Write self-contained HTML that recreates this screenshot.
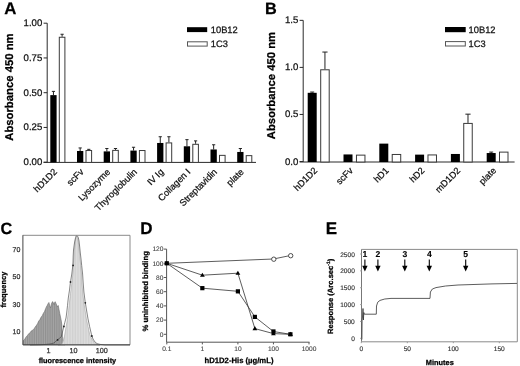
<!DOCTYPE html>
<html><head><meta charset="utf-8"><style>
html,body{margin:0;padding:0;background:#fff;}
body{width:520px;height:366px;overflow:hidden;}
svg{display:block;font-family:"Liberation Sans", sans-serif;-webkit-font-smoothing:antialiased;text-rendering:geometricPrecision;filter:grayscale(1);}
</style></head><body>
<svg width="520" height="366" viewBox="0 0 520 366">
<rect width="520" height="366" fill="#fff"/>
<text x="4.30" y="13.60" font-size="16.8" text-anchor="start" fill="#000" font-weight="bold" stroke="#000" stroke-width="0.25">A</text>
<line x1="47.20" y1="23.20" x2="47.20" y2="162.40" stroke="#2a2a2a" stroke-width="1.0"/>
<line x1="43.60" y1="23.20" x2="47.20" y2="23.20" stroke="#2a2a2a" stroke-width="1.0"/>
<text x="42.30" y="26.20" font-size="9.6" text-anchor="end" fill="#111" stroke="#111" stroke-width="0.25">1.00</text>
<line x1="43.60" y1="57.95" x2="47.20" y2="57.95" stroke="#2a2a2a" stroke-width="1.0"/>
<text x="42.30" y="60.95" font-size="9.6" text-anchor="end" fill="#111" stroke="#111" stroke-width="0.25">0.75</text>
<line x1="43.60" y1="92.70" x2="47.20" y2="92.70" stroke="#2a2a2a" stroke-width="1.0"/>
<text x="42.30" y="95.70" font-size="9.6" text-anchor="end" fill="#111" stroke="#111" stroke-width="0.25">0.50</text>
<line x1="43.60" y1="127.45" x2="47.20" y2="127.45" stroke="#2a2a2a" stroke-width="1.0"/>
<text x="42.30" y="130.45" font-size="9.6" text-anchor="end" fill="#111" stroke="#111" stroke-width="0.25">0.25</text>
<line x1="43.60" y1="162.20" x2="47.20" y2="162.20" stroke="#2a2a2a" stroke-width="1.0"/>
<text x="42.30" y="165.20" font-size="9.6" text-anchor="end" fill="#111" stroke="#111" stroke-width="0.25">0.00</text>
<line x1="43.60" y1="162.40" x2="256.00" y2="162.40" stroke="#2a2a2a" stroke-width="1.0"/>
<text x="0.00" y="0.00" font-size="11.3" text-anchor="middle" fill="#000" font-weight="bold" stroke="#000" stroke-width="0.25" transform="translate(12.5 87.1) rotate(-90)">Absorbance 450 nm</text>
<line x1="53.45" y1="91.38" x2="53.45" y2="95.12" stroke="#222" stroke-width="1"/>
<line x1="51.85" y1="91.38" x2="55.05" y2="91.38" stroke="#222" stroke-width="1"/>
<line x1="62.10" y1="34.26" x2="62.10" y2="36.75" stroke="#222" stroke-width="1"/>
<line x1="60.50" y1="34.26" x2="63.70" y2="34.26" stroke="#222" stroke-width="1"/>
<rect x="50.30" y="95.12" width="6.30" height="67.28" fill="#000"/>
<rect x="59.30" y="37.25" width="5.60" height="125.15" fill="#fff" stroke="#3a3a3a" stroke-width="1"/>
<text x="57.50" y="172.50" font-size="9.2" text-anchor="end" fill="#111" stroke="#111" stroke-width="0.25" transform="rotate(-45 57.5 172.5)">hD1D2</text>
<line x1="80.15" y1="147.95" x2="80.15" y2="150.99" stroke="#222" stroke-width="1"/>
<line x1="78.55" y1="147.95" x2="81.75" y2="147.95" stroke="#222" stroke-width="1"/>
<line x1="88.80" y1="149.33" x2="88.80" y2="150.02" stroke="#222" stroke-width="1"/>
<line x1="87.20" y1="149.33" x2="90.40" y2="149.33" stroke="#222" stroke-width="1"/>
<rect x="77.00" y="150.99" width="6.30" height="11.41" fill="#000"/>
<rect x="86.00" y="150.52" width="5.60" height="11.88" fill="#fff" stroke="#3a3a3a" stroke-width="1"/>
<text x="84.20" y="172.50" font-size="9.2" text-anchor="end" fill="#111" stroke="#111" stroke-width="0.25" transform="rotate(-45 84.2 172.5)">scFv</text>
<line x1="106.85" y1="148.50" x2="106.85" y2="151.40" stroke="#222" stroke-width="1"/>
<line x1="105.25" y1="148.50" x2="108.45" y2="148.50" stroke="#222" stroke-width="1"/>
<line x1="115.50" y1="148.50" x2="115.50" y2="149.88" stroke="#222" stroke-width="1"/>
<line x1="113.90" y1="148.50" x2="117.10" y2="148.50" stroke="#222" stroke-width="1"/>
<rect x="103.70" y="151.40" width="6.30" height="11.00" fill="#000"/>
<rect x="112.70" y="150.38" width="5.60" height="12.02" fill="#fff" stroke="#3a3a3a" stroke-width="1"/>
<text x="110.90" y="172.50" font-size="9.2" text-anchor="end" fill="#111" stroke="#111" stroke-width="0.25" transform="rotate(-45 110.89999999999999 172.5)">Lysozyme</text>
<line x1="133.55" y1="147.26" x2="133.55" y2="150.57" stroke="#222" stroke-width="1"/>
<line x1="131.95" y1="147.26" x2="135.15" y2="147.26" stroke="#222" stroke-width="1"/>
<rect x="130.40" y="150.57" width="6.30" height="11.83" fill="#000"/>
<rect x="139.40" y="150.52" width="5.60" height="11.88" fill="#fff" stroke="#3a3a3a" stroke-width="1"/>
<text x="137.60" y="172.50" font-size="9.2" text-anchor="end" fill="#111" stroke="#111" stroke-width="0.25" transform="rotate(-45 137.59999999999997 172.5)">Thyroglobulin</text>
<line x1="160.25" y1="136.74" x2="160.25" y2="142.97" stroke="#222" stroke-width="1"/>
<line x1="158.65" y1="136.74" x2="161.85" y2="136.74" stroke="#222" stroke-width="1"/>
<line x1="168.90" y1="136.74" x2="168.90" y2="142.41" stroke="#222" stroke-width="1"/>
<line x1="167.30" y1="136.74" x2="170.50" y2="136.74" stroke="#222" stroke-width="1"/>
<rect x="157.10" y="142.97" width="6.30" height="19.43" fill="#000"/>
<rect x="166.10" y="142.91" width="5.60" height="19.49" fill="#fff" stroke="#3a3a3a" stroke-width="1"/>
<text x="164.30" y="172.50" font-size="9.2" text-anchor="end" fill="#111" stroke="#111" stroke-width="0.25" transform="rotate(-45 164.29999999999998 172.5)">IV Ig</text>
<line x1="186.95" y1="139.65" x2="186.95" y2="146.29" stroke="#222" stroke-width="1"/>
<line x1="185.35" y1="139.65" x2="188.55" y2="139.65" stroke="#222" stroke-width="1"/>
<line x1="195.60" y1="140.89" x2="195.60" y2="143.80" stroke="#222" stroke-width="1"/>
<line x1="194.00" y1="140.89" x2="197.20" y2="140.89" stroke="#222" stroke-width="1"/>
<rect x="183.80" y="146.29" width="6.30" height="16.11" fill="#000"/>
<rect x="192.80" y="144.30" width="5.60" height="18.10" fill="#fff" stroke="#3a3a3a" stroke-width="1"/>
<text x="191.00" y="172.50" font-size="9.2" text-anchor="end" fill="#111" stroke="#111" stroke-width="0.25" transform="rotate(-45 191.0 172.5)">Collagen I</text>
<line x1="213.65" y1="144.77" x2="213.65" y2="149.47" stroke="#222" stroke-width="1"/>
<line x1="212.05" y1="144.77" x2="215.25" y2="144.77" stroke="#222" stroke-width="1"/>
<rect x="210.50" y="149.47" width="6.30" height="12.93" fill="#000"/>
<rect x="219.50" y="155.36" width="5.60" height="7.04" fill="#fff" stroke="#3a3a3a" stroke-width="1"/>
<text x="217.70" y="172.50" font-size="9.2" text-anchor="end" fill="#111" stroke="#111" stroke-width="0.25" transform="rotate(-45 217.7 172.5)">Streptavidin</text>
<line x1="240.35" y1="148.50" x2="240.35" y2="151.96" stroke="#222" stroke-width="1"/>
<line x1="238.75" y1="148.50" x2="241.95" y2="148.50" stroke="#222" stroke-width="1"/>
<rect x="237.20" y="151.96" width="6.30" height="10.44" fill="#000"/>
<rect x="246.20" y="155.64" width="5.60" height="6.76" fill="#fff" stroke="#3a3a3a" stroke-width="1"/>
<text x="244.40" y="172.50" font-size="9.2" text-anchor="end" fill="#111" stroke="#111" stroke-width="0.25" transform="rotate(-45 244.39999999999998 172.5)">plate</text>
<rect x="187.00" y="27.20" width="20.20" height="4.90" fill="#000"/>
<rect x="187.50" y="41.80" width="19.70" height="4.30" fill="#fff" stroke="#555" stroke-width="1.0"/>
<text x="210.80" y="33.30" font-size="9.3" text-anchor="start" fill="#111" stroke="#111" stroke-width="0.25">10B12</text>
<text x="210.80" y="47.00" font-size="9.3" text-anchor="start" fill="#111" stroke="#111" stroke-width="0.25">1C3</text>
<text x="265.00" y="13.60" font-size="16.3" text-anchor="start" fill="#000" font-weight="bold" stroke="#000" stroke-width="0.25">B</text>
<line x1="303.20" y1="20.35" x2="303.20" y2="162.00" stroke="#2a2a2a" stroke-width="1.0"/>
<line x1="299.60" y1="20.35" x2="303.20" y2="20.35" stroke="#2a2a2a" stroke-width="1.0"/>
<text x="298.30" y="23.35" font-size="9.6" text-anchor="end" fill="#111" stroke="#111" stroke-width="0.25">1.5</text>
<line x1="299.60" y1="67.40" x2="303.20" y2="67.40" stroke="#2a2a2a" stroke-width="1.0"/>
<text x="298.30" y="70.40" font-size="9.6" text-anchor="end" fill="#111" stroke="#111" stroke-width="0.25">1.0</text>
<line x1="299.60" y1="114.45" x2="303.20" y2="114.45" stroke="#2a2a2a" stroke-width="1.0"/>
<text x="298.30" y="117.45" font-size="9.6" text-anchor="end" fill="#111" stroke="#111" stroke-width="0.25">0.5</text>
<line x1="299.60" y1="161.50" x2="303.20" y2="161.50" stroke="#2a2a2a" stroke-width="1.0"/>
<text x="298.30" y="164.50" font-size="9.6" text-anchor="end" fill="#111" stroke="#111" stroke-width="0.25">0.0</text>
<line x1="299.60" y1="162.00" x2="514.60" y2="162.00" stroke="#2a2a2a" stroke-width="1.0"/>
<text x="0.00" y="0.00" font-size="11.3" text-anchor="middle" fill="#000" font-weight="bold" stroke="#000" stroke-width="0.25" transform="translate(274.5 85.6) rotate(-90)">Absorbance 450 nm</text>
<line x1="312.20" y1="92.05" x2="312.20" y2="92.81" stroke="#222" stroke-width="1.0"/>
<line x1="310.20" y1="92.05" x2="314.20" y2="92.05" stroke="#222" stroke-width="1.0"/>
<line x1="324.95" y1="52.06" x2="324.95" y2="69.28" stroke="#222" stroke-width="1.0"/>
<line x1="322.35" y1="52.06" x2="327.55" y2="52.06" stroke="#222" stroke-width="1.0"/>
<rect x="307.70" y="92.81" width="9.00" height="69.19" fill="#000"/>
<rect x="320.70" y="69.78" width="8.50" height="92.22" fill="#fff" stroke="#3a3a3a" stroke-width="1.0"/>
<text x="317.80" y="171.20" font-size="9.2" text-anchor="end" fill="#111" stroke="#111" stroke-width="0.25" transform="rotate(-45 317.8 171.2)">hD1D2</text>
<rect x="343.50" y="154.44" width="9.00" height="7.56" fill="#000"/>
<rect x="356.46" y="155.13" width="8.50" height="6.87" fill="#fff" stroke="#3a3a3a" stroke-width="1.0"/>
<text x="353.60" y="171.20" font-size="9.2" text-anchor="end" fill="#111" stroke="#111" stroke-width="0.25" transform="rotate(-45 353.6 171.2)">scFv</text>
<rect x="379.30" y="143.62" width="9.00" height="18.38" fill="#000"/>
<rect x="392.22" y="154.47" width="8.50" height="7.53" fill="#fff" stroke="#3a3a3a" stroke-width="1.0"/>
<text x="389.40" y="171.20" font-size="9.2" text-anchor="end" fill="#111" stroke="#111" stroke-width="0.25" transform="rotate(-45 389.40000000000003 171.2)">hD1</text>
<rect x="415.10" y="154.63" width="9.00" height="7.37" fill="#000"/>
<rect x="427.98" y="154.94" width="8.50" height="7.06" fill="#fff" stroke="#3a3a3a" stroke-width="1.0"/>
<text x="425.20" y="171.20" font-size="9.2" text-anchor="end" fill="#111" stroke="#111" stroke-width="0.25" transform="rotate(-45 425.2 171.2)">hD2</text>
<line x1="467.99" y1="114.17" x2="467.99" y2="122.92" stroke="#222" stroke-width="1.0"/>
<line x1="465.39" y1="114.17" x2="470.59" y2="114.17" stroke="#222" stroke-width="1.0"/>
<rect x="450.90" y="153.97" width="9.00" height="8.03" fill="#000"/>
<rect x="463.74" y="123.42" width="8.50" height="38.58" fill="#fff" stroke="#3a3a3a" stroke-width="1.0"/>
<text x="461.00" y="171.20" font-size="9.2" text-anchor="end" fill="#111" stroke="#111" stroke-width="0.25" transform="rotate(-45 461.0 171.2)">mD1D2</text>
<line x1="491.20" y1="152.09" x2="491.20" y2="153.03" stroke="#222" stroke-width="1.0"/>
<line x1="489.20" y1="152.09" x2="493.20" y2="152.09" stroke="#222" stroke-width="1.0"/>
<rect x="486.70" y="153.03" width="9.00" height="8.97" fill="#000"/>
<rect x="499.50" y="152.12" width="8.50" height="9.88" fill="#fff" stroke="#3a3a3a" stroke-width="1.0"/>
<text x="496.80" y="171.20" font-size="9.2" text-anchor="end" fill="#111" stroke="#111" stroke-width="0.25" transform="rotate(-45 496.8 171.2)">plate</text>
<rect x="445.00" y="27.00" width="20.70" height="5.20" fill="#000"/>
<rect x="445.50" y="41.60" width="19.80" height="4.40" fill="#fff" stroke="#555" stroke-width="1.0"/>
<text x="468.60" y="33.30" font-size="9.3" text-anchor="start" fill="#111" stroke="#111" stroke-width="0.25">10B12</text>
<text x="468.60" y="47.00" font-size="9.3" text-anchor="start" fill="#111" stroke="#111" stroke-width="0.25">1C3</text>
<text x="0.40" y="234.00" font-size="16.3" text-anchor="start" fill="#000" font-weight="bold" stroke="#000" stroke-width="0.25">C</text>
<defs><pattern id="pd" width="1.8" height="2" patternUnits="userSpaceOnUse"><rect width="1.8" height="2" fill="#a5a5a5"/><rect width="0.7" height="2" fill="#8a8a8a"/></pattern><pattern id="pl" width="1.6" height="2" patternUnits="userSpaceOnUse"><rect width="1.6" height="2" fill="#dedede"/><rect width="0.6" height="2" fill="#cacaca"/></pattern></defs>
<polygon points="23.2,345.0 23.4,340.5 24.5,339.5 25.5,338.0 26.2,336.7 27.5,335.5 28.6,333.8 30.0,333.0 31.0,331.2 32.2,330.5 33.3,329.6 34.0,328.9 35.2,327.0 36.3,325.6 37.5,323.8 38.7,321.1 39.8,319.8 40.9,317.5 42.2,315.8 43.4,313.3 44.5,311.5 45.6,308.8 46.5,306.5 47.2,305.5 48.2,303.5 48.9,302.5 49.8,306.0 50.6,307.8 51.5,303.5 52.6,301.6 53.3,302.8 54.0,304.5 54.6,302.5 55.2,301.7 56.0,303.5 56.8,305.5 57.5,306.8 58.2,305.5 59.0,309.5 59.7,313.3 60.5,317.0 61.3,321.1 61.8,325.0 62.0,328.9 62.2,333.0 62.5,336.7 63.0,340.0 64.0,343.5 65.0,345.0" fill="url(#pd)" stroke="#6a6a6a" stroke-width="0.6"/>
<polygon points="58.0,345.2 61.0,344.5 62.5,343.0 63.5,340.0 64.5,336.0 65.5,330.0 66.6,324.0 67.7,317.0 68.6,310.4 69.5,302.0 70.5,293.5 71.6,285.0 72.4,278.0 73.1,270.0 73.6,262.0 74.0,255.0 74.5,249.0 75.1,243.0 75.7,239.0 76.3,236.3 77.2,237.0 78.0,240.0 78.7,245.0 79.3,252.0 80.0,259.0 80.8,266.0 81.5,274.0 82.1,285.0 82.9,294.0 83.8,302.0 85.0,310.0 86.4,318.9 88.0,326.5 89.7,334.2 91.3,338.0 93.1,341.0 95.0,343.5 98.0,344.8 100.0,345.2" fill="url(#pl)" stroke="#999" stroke-width="0.5"/>
<polyline points="30.0,345.0 40.0,344.8 45.0,344.5 50.0,344.0 54.0,343.0 57.4,339.8 59.5,338.3 61.3,336.7 62.5,332.0 63.6,327.4 64.8,322.5 66.0,318.0 66.8,312.0 67.5,305.6 68.3,298.0 69.5,290.0 70.2,284.0 70.8,280.0 71.8,274.0 72.5,268.0 73.0,262.0 73.2,256.0 73.5,250.0 74.2,245.0 74.8,241.0 75.6,237.5 76.3,235.6 77.3,235.8 78.3,237.5 79.0,241.0 79.6,246.0 80.2,252.0 81.0,259.0 81.7,265.6 82.6,274.0 83.2,283.0 83.9,292.0 85.2,302.0 86.5,310.0 88.0,318.9 89.6,326.5 91.4,334.2 93.0,339.0 94.8,341.8 97.0,343.6 100.0,344.4 105.0,345.0 130.0,345.0" fill="none" stroke="#444" stroke-width="0.65"/>
<circle cx="73.1" cy="265.4" r="0.9" fill="#222"/>
<circle cx="70.5" cy="282" r="0.9" fill="#222"/>
<circle cx="63.9" cy="326.5" r="0.9" fill="#222"/>
<circle cx="57.6" cy="339.9" r="0.9" fill="#222"/>
<circle cx="85.3" cy="302.8" r="0.9" fill="#222"/>
<circle cx="91.8" cy="336" r="0.9" fill="#222"/>
<line x1="22.70" y1="235.30" x2="130.00" y2="235.30" stroke="#8a8a8a" stroke-width="1.0"/>
<line x1="130.00" y1="235.30" x2="130.00" y2="344.80" stroke="#8a8a8a" stroke-width="1.0"/>
<line x1="22.90" y1="235.30" x2="22.90" y2="344.80" stroke="#444" stroke-width="1.0"/>
<line x1="22.90" y1="344.80" x2="130.00" y2="344.80" stroke="#444" stroke-width="1.0"/>
<text x="20.30" y="251.80" font-size="7" text-anchor="end" fill="#333" stroke="#333" stroke-width="0.25">70</text>
<text x="20.30" y="279.20" font-size="7" text-anchor="end" fill="#333" stroke="#333" stroke-width="0.25">50</text>
<text x="20.30" y="306.60" font-size="7" text-anchor="end" fill="#333" stroke="#333" stroke-width="0.25">30</text>
<text x="20.30" y="334.00" font-size="7" text-anchor="end" fill="#333" stroke="#333" stroke-width="0.25">10</text>
<text x="48.50" y="353.20" font-size="7.2" text-anchor="middle" fill="#333" stroke="#333" stroke-width="0.25">1</text>
<text x="73.50" y="353.20" font-size="7.2" text-anchor="middle" fill="#333" stroke="#333" stroke-width="0.25">10</text>
<text x="101.80" y="353.20" font-size="7.2" text-anchor="middle" fill="#333" stroke="#333" stroke-width="0.25">100</text>
<text x="0.00" y="0.00" font-size="7.5" text-anchor="middle" fill="#000" font-weight="bold" stroke="#000" stroke-width="0.25" transform="translate(6.1 289.6) rotate(-90)">frequency</text>
<text x="77.40" y="363.10" font-size="7.35" text-anchor="middle" fill="#000" font-weight="bold" stroke="#000" stroke-width="0.25">fluorescence intensity</text>
<text x="140.20" y="234.10" font-size="17" text-anchor="start" fill="#000" font-weight="bold" stroke="#000" stroke-width="0.25">D</text>
<line x1="166.60" y1="249.10" x2="166.60" y2="342.20" stroke="#555" stroke-width="1.0"/>
<line x1="163.80" y1="249.10" x2="166.60" y2="249.10" stroke="#555" stroke-width="1.0"/>
<text x="163.40" y="251.40" font-size="6.6" text-anchor="end" fill="#444" stroke="#444" stroke-width="0.12">120</text>
<line x1="163.80" y1="263.30" x2="166.60" y2="263.30" stroke="#555" stroke-width="1.0"/>
<text x="163.40" y="265.60" font-size="6.6" text-anchor="end" fill="#444" stroke="#444" stroke-width="0.12">100</text>
<line x1="163.80" y1="277.50" x2="166.60" y2="277.50" stroke="#555" stroke-width="1.0"/>
<text x="163.40" y="279.80" font-size="6.6" text-anchor="end" fill="#444" stroke="#444" stroke-width="0.12">80</text>
<line x1="163.80" y1="291.70" x2="166.60" y2="291.70" stroke="#555" stroke-width="1.0"/>
<text x="163.40" y="294.00" font-size="6.6" text-anchor="end" fill="#444" stroke="#444" stroke-width="0.12">60</text>
<line x1="163.80" y1="305.90" x2="166.60" y2="305.90" stroke="#555" stroke-width="1.0"/>
<text x="163.40" y="308.20" font-size="6.6" text-anchor="end" fill="#444" stroke="#444" stroke-width="0.12">40</text>
<line x1="163.80" y1="320.10" x2="166.60" y2="320.10" stroke="#555" stroke-width="1.0"/>
<text x="163.40" y="322.40" font-size="6.6" text-anchor="end" fill="#444" stroke="#444" stroke-width="0.12">20</text>
<line x1="163.80" y1="334.30" x2="166.60" y2="334.30" stroke="#555" stroke-width="1.0"/>
<text x="163.40" y="336.60" font-size="6.6" text-anchor="end" fill="#444" stroke="#444" stroke-width="0.12">0</text>
<line x1="166.60" y1="342.20" x2="309.50" y2="342.20" stroke="#555" stroke-width="1.0"/>
<line x1="166.80" y1="342.20" x2="166.80" y2="344.40" stroke="#555" stroke-width="1.0"/>
<text x="166.80" y="351.40" font-size="6.6" text-anchor="middle" fill="#444" stroke="#444" stroke-width="0.12">0.1</text>
<line x1="202.35" y1="342.20" x2="202.35" y2="344.40" stroke="#555" stroke-width="1.0"/>
<text x="202.35" y="351.40" font-size="6.6" text-anchor="middle" fill="#444" stroke="#444" stroke-width="0.12">1</text>
<line x1="237.90" y1="342.20" x2="237.90" y2="344.40" stroke="#555" stroke-width="1.0"/>
<text x="237.90" y="351.40" font-size="6.6" text-anchor="middle" fill="#444" stroke="#444" stroke-width="0.12">10</text>
<line x1="273.45" y1="342.20" x2="273.45" y2="344.40" stroke="#555" stroke-width="1.0"/>
<text x="273.45" y="351.40" font-size="6.6" text-anchor="middle" fill="#444" stroke="#444" stroke-width="0.12">100</text>
<line x1="309.00" y1="342.20" x2="309.00" y2="344.40" stroke="#555" stroke-width="1.0"/>
<text x="309.00" y="351.40" font-size="6.6" text-anchor="middle" fill="#444" stroke="#444" stroke-width="0.12">1000</text>
<text x="239.00" y="363.20" font-size="7.7" text-anchor="middle" fill="#000" font-weight="bold" stroke="#000" stroke-width="0.25">hD1D2-His (µg/mL)</text>
<text x="0.00" y="0.00" font-size="7.7" text-anchor="middle" fill="#000" font-weight="bold" stroke="#000" stroke-width="0.25" transform="translate(147.6 291.3) rotate(-90)">% uninhibited binding</text>
<polyline points="166.8,263.3 273.4,259.0 290.4,255.5" fill="none" stroke="#333" stroke-width="0.8"/>
<polyline points="166.8,263.3 202.4,275.2 237.9,273.2 254.9,328.6 273.4,333.6 290.4,334.3" fill="none" stroke="#333" stroke-width="0.8"/>
<polyline points="166.8,263.3 202.4,288.2 237.9,291.3 254.9,316.9 273.4,331.5 290.4,334.3" fill="none" stroke="#333" stroke-width="0.8"/>
<circle cx="273.8" cy="259.2" r="2.2" fill="#fff" stroke="#333" stroke-width="0.85"/>
<circle cx="290.7" cy="255.7" r="2.2" fill="#fff" stroke="#333" stroke-width="0.85"/>
<polygon points="166.8,260.8 169.2,264.9 164.4,264.9" fill="#000"/>
<polygon points="202.4,272.7 204.8,276.8 200.0,276.8" fill="#000"/>
<polygon points="237.9,270.7 240.3,274.8 235.5,274.8" fill="#000"/>
<polygon points="254.9,326.1 257.3,330.2 252.5,330.2" fill="#000"/>
<polygon points="273.4,331.1 275.8,335.2 271.1,335.2" fill="#000"/>
<polygon points="290.4,331.8 292.8,335.9 288.0,335.9" fill="#000"/>
<rect x="164.70" y="261.20" width="4.20" height="4.20" fill="#000"/>
<rect x="200.25" y="286.05" width="4.20" height="4.20" fill="#000"/>
<rect x="235.80" y="289.25" width="4.20" height="4.20" fill="#000"/>
<rect x="252.76" y="314.81" width="4.20" height="4.20" fill="#000"/>
<rect x="271.35" y="329.36" width="4.20" height="4.20" fill="#000"/>
<rect x="288.31" y="332.20" width="4.20" height="4.20" fill="#000"/>
<text x="325.80" y="234.10" font-size="17" text-anchor="start" fill="#000" font-weight="bold" stroke="#000" stroke-width="0.25">E</text>
<line x1="361.50" y1="249.40" x2="517.30" y2="249.40" stroke="#8a8a8a" stroke-width="1.0"/>
<line x1="517.30" y1="249.40" x2="517.30" y2="341.80" stroke="#8a8a8a" stroke-width="1.0"/>
<line x1="361.50" y1="249.40" x2="361.50" y2="341.80" stroke="#777" stroke-width="1.0"/>
<line x1="361.50" y1="341.80" x2="517.30" y2="341.80" stroke="#8a8a8a" stroke-width="1.0"/>
<line x1="360.00" y1="254.00" x2="361.50" y2="254.00" stroke="#aaa" stroke-width="1.0"/>
<text x="354.80" y="256.50" font-size="6.6" text-anchor="end" fill="#333" stroke="#333" stroke-width="0.15">2500</text>
<line x1="360.00" y1="270.86" x2="361.50" y2="270.86" stroke="#aaa" stroke-width="1.0"/>
<text x="354.80" y="273.36" font-size="6.6" text-anchor="end" fill="#333" stroke="#333" stroke-width="0.15">2000</text>
<line x1="360.00" y1="287.72" x2="361.50" y2="287.72" stroke="#aaa" stroke-width="1.0"/>
<text x="354.80" y="290.22" font-size="6.6" text-anchor="end" fill="#333" stroke="#333" stroke-width="0.15">1500</text>
<line x1="360.00" y1="304.58" x2="361.50" y2="304.58" stroke="#aaa" stroke-width="1.0"/>
<text x="354.80" y="307.08" font-size="6.6" text-anchor="end" fill="#333" stroke="#333" stroke-width="0.15">1000</text>
<line x1="360.00" y1="321.44" x2="361.50" y2="321.44" stroke="#aaa" stroke-width="1.0"/>
<text x="354.80" y="323.94" font-size="6.6" text-anchor="end" fill="#333" stroke="#333" stroke-width="0.15">500</text>
<line x1="360.00" y1="338.30" x2="361.50" y2="338.30" stroke="#aaa" stroke-width="1.0"/>
<text x="354.80" y="340.80" font-size="6.6" text-anchor="end" fill="#333" stroke="#333" stroke-width="0.15">0</text>
<line x1="361.30" y1="341.80" x2="361.30" y2="343.20" stroke="#999" stroke-width="1.0"/>
<text x="361.30" y="351.00" font-size="6.6" text-anchor="middle" fill="#333" stroke="#333" stroke-width="0.15">0</text>
<line x1="407.30" y1="341.80" x2="407.30" y2="343.20" stroke="#999" stroke-width="1.0"/>
<text x="407.30" y="351.00" font-size="6.6" text-anchor="middle" fill="#333" stroke="#333" stroke-width="0.15">50</text>
<line x1="453.30" y1="341.80" x2="453.30" y2="343.20" stroke="#999" stroke-width="1.0"/>
<text x="453.30" y="351.00" font-size="6.6" text-anchor="middle" fill="#333" stroke="#333" stroke-width="0.15">100</text>
<line x1="499.30" y1="341.80" x2="499.30" y2="343.20" stroke="#999" stroke-width="1.0"/>
<text x="499.30" y="351.00" font-size="6.6" text-anchor="middle" fill="#333" stroke="#333" stroke-width="0.15">150</text>
<text x="439.80" y="365.00" font-size="7.4" text-anchor="middle" fill="#000" font-weight="bold" stroke="#000" stroke-width="0.25">Minutes</text>
<text font-size="7.6" font-weight="bold" fill="#000" stroke="#000" stroke-width="0.25" text-anchor="middle" transform="translate(333.3 296.4) rotate(-90)">Response (Arc.sec<tspan font-size="5" dy="-3">-1</tspan><tspan dy="3">)</tspan></text>
<text x="364.90" y="256.60" font-size="8.6" text-anchor="middle" fill="#000" font-weight="bold" stroke="#000" stroke-width="0.1">1</text>
<line x1="364.90" y1="259.40" x2="364.90" y2="266.50" stroke="#000" stroke-width="1.1"/>
<polygon points="362.2,265.7 367.6,265.7 364.9,271.6" fill="#000"/>
<text x="377.90" y="256.60" font-size="8.6" text-anchor="middle" fill="#000" font-weight="bold" stroke="#000" stroke-width="0.1">2</text>
<line x1="377.90" y1="259.40" x2="377.90" y2="266.50" stroke="#000" stroke-width="1.1"/>
<polygon points="375.2,265.7 380.6,265.7 377.9,271.6" fill="#000"/>
<text x="404.80" y="256.60" font-size="8.6" text-anchor="middle" fill="#000" font-weight="bold" stroke="#000" stroke-width="0.1">3</text>
<line x1="404.80" y1="259.40" x2="404.80" y2="266.50" stroke="#000" stroke-width="1.1"/>
<polygon points="402.1,265.7 407.5,265.7 404.8,271.6" fill="#000"/>
<text x="429.30" y="256.60" font-size="8.6" text-anchor="middle" fill="#000" font-weight="bold" stroke="#000" stroke-width="0.1">4</text>
<line x1="429.30" y1="259.40" x2="429.30" y2="266.50" stroke="#000" stroke-width="1.1"/>
<polygon points="426.6,265.7 432.0,265.7 429.3,271.6" fill="#000"/>
<text x="465.70" y="256.60" font-size="8.6" text-anchor="middle" fill="#000" font-weight="bold" stroke="#000" stroke-width="0.1">5</text>
<line x1="465.70" y1="259.40" x2="465.70" y2="266.50" stroke="#000" stroke-width="1.1"/>
<polygon points="463.0,265.7 468.4,265.7 465.7,271.6" fill="#000"/>
<path d="M361.9,339.5 L362.1,320 L362.5,317 L363.0,308.5 L363.4,320 L363.8,312.5 L364.3,314.2 L376.3,314.2 L376.5,306 Q377.2,301.2 380,300.4 Q384,298.6 391,298.4 L430,298.4 L430.4,292 Q431.5,288.2 436,287.6 Q444,285.7 458,285 L492,283.9 L517,283.4" fill="none" stroke="#333" stroke-width="0.8"/>
</svg>
</body></html>
